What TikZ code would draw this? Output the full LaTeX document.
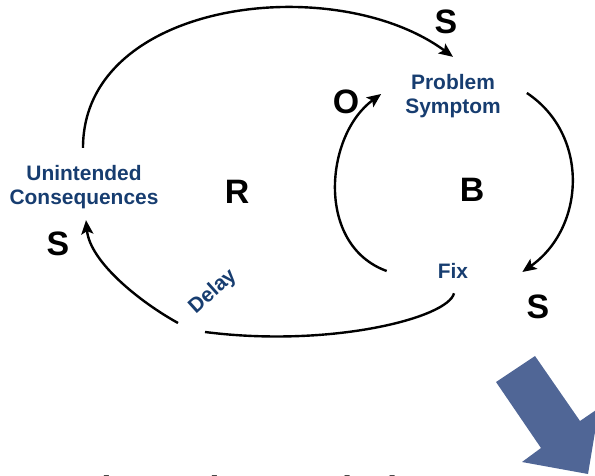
\documentclass[tikz,border=0pt]{standalone}
\usepackage{fontspec}
\setmainfont{Liberation Sans}
\usepackage{tikz}
\usetikzlibrary{arrows.meta}
\definecolor{clblue}{RGB}{23,61,112}
\definecolor{clarrowfill}{RGB}{80,102,150}
\tikzset{
  clvar/.style={text=clblue, font=\fontsize{21}{23.5}\selectfont\bfseries, align=center, inner sep=0pt},
  clsign/.style={font=\fontsize{34}{38}\selectfont\bfseries, inner sep=0pt},
  clline/.style={line width=2.4bp},
  clarr/.style={-{Stealth[length=14bp,width=12bp,inset=3bp]}, line width=2.4bp}
}

\begin{document}
\begin{tikzpicture}[x=1bp, y=-1bp]
  \useasboundingbox (0,0) rectangle (595,476);
  \clip (0,0) rectangle (595,476);
  \node[clvar] (cons) at (84,187) {Unintended\\Consequences};
  \node[clvar] (symptom) at (453,96) {Problem\\Symptom};
  \node[clvar] (fix) at (453,271) {Fix};
  \node[clvar, rotate=42] (delay) at (213,292) {Delay};
  \coordinate (gapR) at (205,332);
  \coordinate (gapL) at (178,323);
  \draw[clarr] ([shift={(-1,-17.5)}]cons.north) .. controls (83,0) and (335,-30) .. ([shift={(0,-17.5)}]symptom.north);
  \draw[clarr] ([shift={(26,-3)}]symptom.east) .. controls (590,135) and (585,228) .. ([shift={(54,1)}]fix.east);
  \draw[clarr] ([shift={(-51,0)}]fix.west) .. controls (315,245) and (325,135) .. ([shift={(-24,-2)}]symptom.west);
  \draw[clline] ([shift={(1,14.5)}]fix.south) .. controls (448,318) and (330,348) .. (gapR);
  \draw[clarr] (gapL) .. controls (140,302) and (90,262) .. ([shift={(2,11.5)}]cons.south);
  \node[clsign] (sA) at (446,22) {S};
  \node[clsign] (oC) at (346,102) {O};
  \node[clsign] (loopB) at (472,190) {B};
  \node[clsign] (loopR) at (237,192) {R};
  \node[clsign] (sD) at (58,244) {S};
  \node[clsign] (sB) at (538,307) {S};
  \fill[clarrowfill] (496,382) -- (535,356) -- (580,421) -- (599,408) -- (588,474) -- (522,462) -- (541,448) -- cycle;
  \node[font=\fontsize{37}{40}\selectfont\bfseries, anchor=base west] (title) at (53,502) {Independent Turbulence};
\end{tikzpicture}
\end{document}
